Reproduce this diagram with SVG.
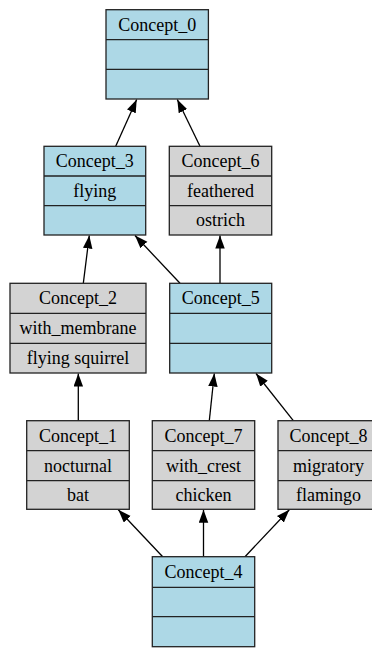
<svg xmlns="http://www.w3.org/2000/svg" width="372" height="649" viewBox="0 0 372 649">
<style>
.b rect{stroke:#222;stroke-width:1.3}
.blue rect{fill:#add8e6}
.gray rect{fill:#d3d3d3}
.b line{stroke:#222;stroke-width:1.3}
text{font-family:"Liberation Serif","Times New Roman",serif;font-size:18px;fill:#000;text-anchor:middle}
.e line{stroke:#000;stroke-width:1.3;marker-end:url(#ah)}
</style>
<defs>
<marker id="ah" markerUnits="userSpaceOnUse" markerWidth="14" markerHeight="10" refX="13" refY="4.75" orient="auto">
<path d="M0,0 L13,4.75 L0,9.5 z" fill="#000"/>
</marker>
</defs>
<g id="edges" class="e">
<line x1="115.7" y1="146.3" x2="136.7" y2="99.5"/>
<line x1="200" y1="146.3" x2="177.3" y2="99.5"/>
<line x1="83.3" y1="283.3" x2="89.3" y2="235.5"/>
<line x1="180" y1="283.3" x2="135" y2="235.5"/>
<line x1="220" y1="283.3" x2="220" y2="235.5"/>
<line x1="78.3" y1="420.7" x2="78.3" y2="373.5"/>
<line x1="209.3" y1="420.7" x2="214.3" y2="373.5"/>
<line x1="293.3" y1="420.7" x2="256" y2="373.5"/>
<line x1="162.7" y1="556.7" x2="118.3" y2="509.8"/>
<line x1="203.5" y1="556.7" x2="203.5" y2="509.8"/>
<line x1="245" y1="556.7" x2="289.3" y2="509.8"/>
</g>
<g id="Concept_0" class="b blue">
<rect x="106" y="9.7" width="102.4" height="89.3"/>
<line x1="106" y1="39.7" x2="208.4" y2="39.7"/><line x1="106" y1="69.3" x2="208.4" y2="69.3"/>
<text x="157.2" y="30.5">Concept_0</text>
</g>
<g id="Concept_3" class="b blue">
<rect x="44" y="146.3" width="101.7" height="88.7"/>
<line x1="44" y1="176" x2="145.7" y2="176"/><line x1="44" y1="205.7" x2="145.7" y2="205.7"/>
<text x="94.8" y="167">Concept_3</text>
<text x="94.8" y="196.6">flying</text>
</g>
<g id="Concept_6" class="b gray">
<rect x="169.3" y="146.3" width="102.4" height="88.7"/>
<line x1="169.3" y1="176" x2="271.7" y2="176"/><line x1="169.3" y1="205.7" x2="271.7" y2="205.7"/>
<text x="220.5" y="167">Concept_6</text>
<text x="220.5" y="196.6">feathered</text>
<text x="220.5" y="226.3">ostrich</text>
</g>
<g id="Concept_2" class="b gray">
<rect x="10" y="283.3" width="136" height="89.7"/>
<line x1="10" y1="313.3" x2="146" y2="313.3"/><line x1="10" y1="343.3" x2="146" y2="343.3"/>
<text x="78" y="304">Concept_2</text>
<text x="78" y="334">with_membrane</text>
<text x="78" y="364">flying squirrel</text>
</g>
<g id="Concept_5" class="b blue">
<rect x="169.7" y="283.3" width="102" height="89.7"/>
<line x1="169.7" y1="313.3" x2="271.7" y2="313.3"/><line x1="169.7" y1="343.3" x2="271.7" y2="343.3"/>
<text x="220.7" y="304">Concept_5</text>
</g>
<g id="Concept_1" class="b gray">
<rect x="26.7" y="420.7" width="102.6" height="88.6"/>
<line x1="26.7" y1="450.7" x2="129.3" y2="450.7"/><line x1="26.7" y1="480.7" x2="129.3" y2="480.7"/>
<text x="78" y="441.5">Concept_1</text>
<text x="78" y="471.5">nocturnal</text>
<text x="78" y="501">bat</text>
</g>
<g id="Concept_7" class="b gray">
<rect x="152.3" y="420.7" width="102.4" height="88.6"/>
<line x1="152.3" y1="450.7" x2="254.7" y2="450.7"/><line x1="152.3" y1="480.7" x2="254.7" y2="480.7"/>
<text x="203.5" y="441.5">Concept_7</text>
<text x="203.5" y="471.5">with_crest</text>
<text x="203.5" y="501">chicken</text>
</g>
<g id="Concept_8" class="b gray">
<rect x="278" y="420.7" width="102.4" height="88.6"/>
<line x1="278" y1="450.7" x2="380.4" y2="450.7"/><line x1="278" y1="480.7" x2="380.4" y2="480.7"/>
<text x="328.5" y="441.5">Concept_8</text>
<text x="328.5" y="471.5">migratory</text>
<text x="328.5" y="501">flamingo</text>
</g>
<g id="Concept_4" class="b blue">
<rect x="152.3" y="556.7" width="102.4" height="90"/>
<line x1="152.3" y1="587.3" x2="254.7" y2="587.3"/><line x1="152.3" y1="616.7" x2="254.7" y2="616.7"/>
<text x="203.5" y="577.5">Concept_4</text>
</g>
</svg>
